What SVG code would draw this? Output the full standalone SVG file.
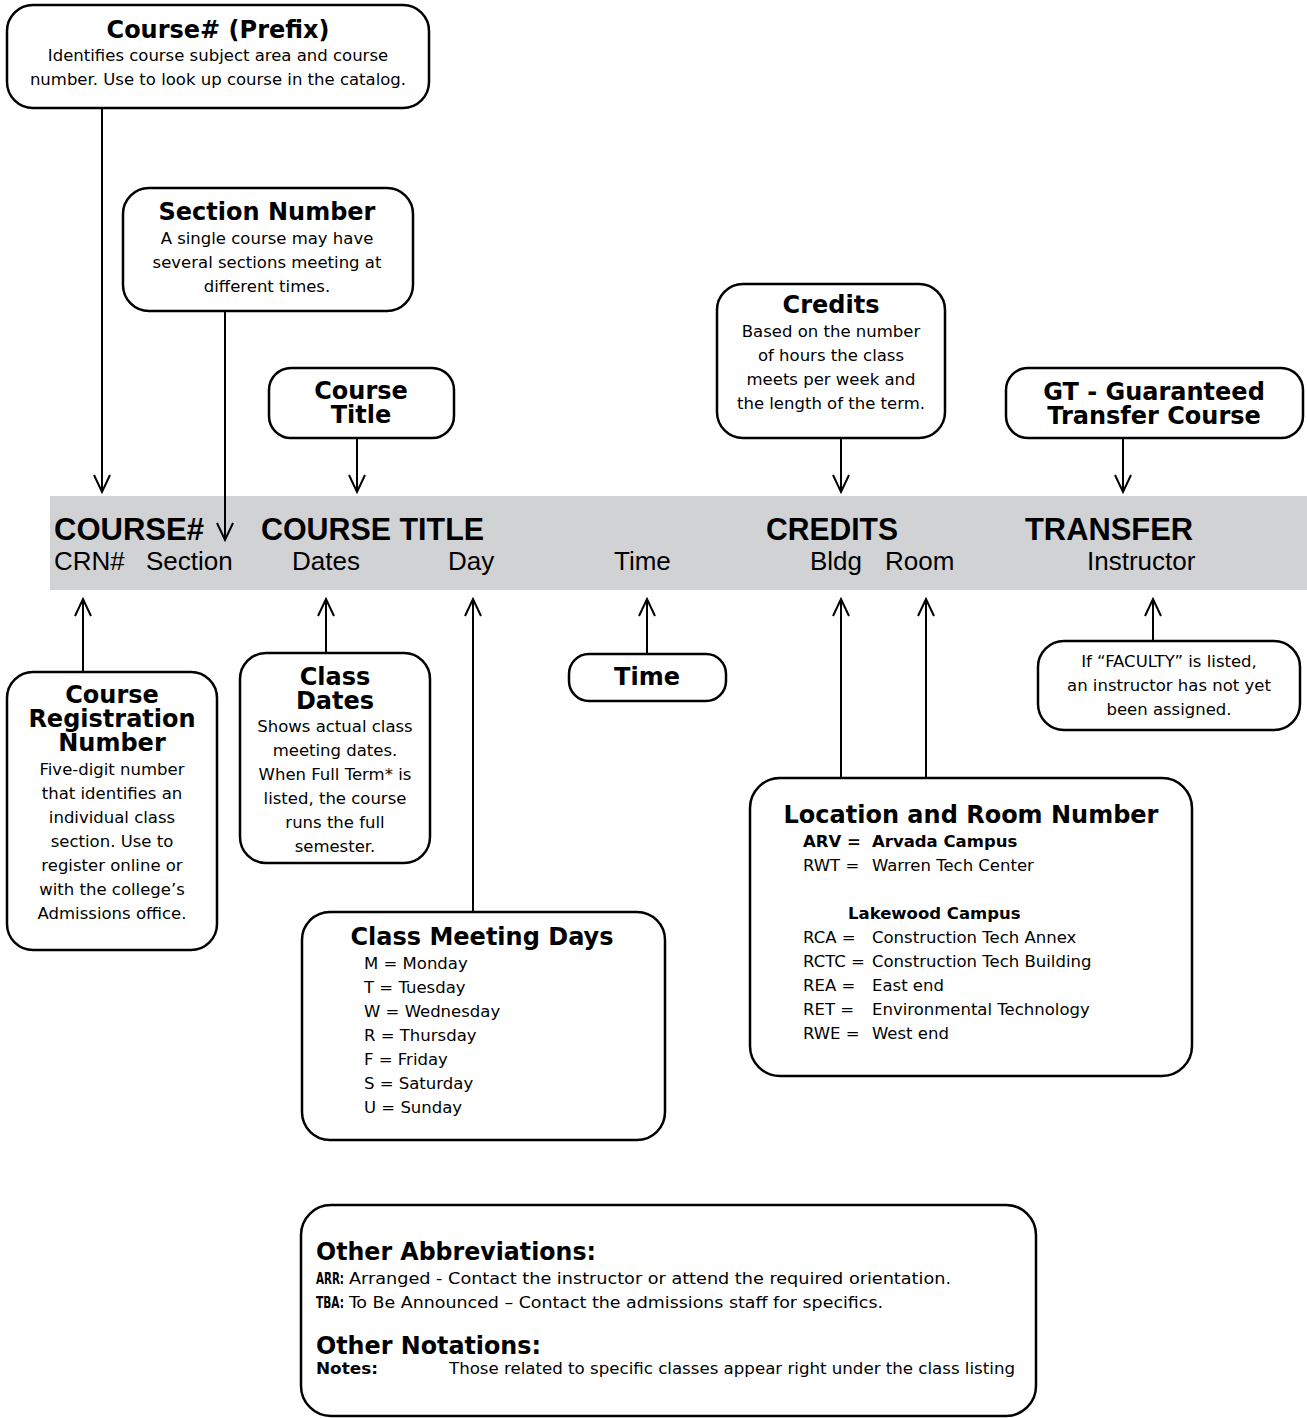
<svg xmlns="http://www.w3.org/2000/svg" width="1307" height="1418" viewBox="0 0 1307 1418">
<style>
.box{fill:#fff;stroke:#000;stroke-width:2.5}
.ttl{font-family:"DejaVu Sans",Verdana,sans-serif;font-weight:bold;font-size:24px;text-anchor:middle;fill:#000}
.body{font-family:"DejaVu Sans",Verdana,sans-serif;font-size:16.5px;text-anchor:middle;fill:#000}
.lst{font-family:"DejaVu Sans",Verdana,sans-serif;font-size:16.5px;fill:#000}
.lstb{font-family:"DejaVu Sans",Verdana,sans-serif;font-size:16.5px;font-weight:bold;fill:#000}
.cnd{font-family:"DejaVu Sans Condensed","DejaVu Sans",sans-serif;font-stretch:condensed;font-size:16px;fill:#000}
.cndb{font-family:"DejaVu Sans Condensed","DejaVu Sans",sans-serif;font-stretch:condensed;font-weight:bold;fill:#000}
.bh{font-family:"Liberation Sans",Arial,sans-serif;font-weight:bold;font-size:31px;fill:#000}
.br{font-family:"Liberation Sans",Arial,sans-serif;font-size:26px;fill:#000}
.conn line{stroke:#000;stroke-width:2;fill:none;marker-end:url(#arr)}
</style>
<defs>
<marker id="arr" markerUnits="userSpaceOnUse" viewBox="-18 -10 20 20" markerWidth="20" markerHeight="20" refX="0" refY="0" orient="auto" overflow="visible">
<path d="M-17,-8 L0,0 L-17,8" fill="none" stroke="#000" stroke-width="2"/>
</marker>
</defs>
<rect width="1307" height="1418" fill="#fff"/>

<g id="bar">
<rect x="50" y="496" width="1257" height="94" fill="#d1d2d4"/>
<text class="bh" x="54" y="540" textLength="150" lengthAdjust="spacingAndGlyphs">COURSE#</text>
<text class="bh" x="261" y="540" textLength="223" lengthAdjust="spacingAndGlyphs">COURSE TITLE</text>
<text class="bh" x="766" y="540" textLength="132" lengthAdjust="spacingAndGlyphs">CREDITS</text>
<text class="bh" x="1025" y="540" textLength="168" lengthAdjust="spacingAndGlyphs">TRANSFER</text>
<text class="br" x="54" y="570">CRN#</text>
<text class="br" x="146" y="570">Section</text>
<text class="br" x="292" y="570">Dates</text>
<text class="br" x="448" y="570">Day</text>
<text class="br" x="614" y="570">Time</text>
<text class="br" x="810" y="570">Bldg</text>
<text class="br" x="885" y="570">Room</text>
<text class="br" x="1087" y="570">Instructor</text>
</g>

<g id="connectors" class="conn">
<line x1="102" y1="108" x2="102" y2="492"/>
<line x1="225" y1="311" x2="225" y2="540"/>
<line x1="357" y1="438" x2="357" y2="492"/>
<line x1="841" y1="438" x2="841" y2="492"/>
<line x1="1123" y1="438" x2="1123" y2="492"/>
<line x1="83" y1="672" x2="83" y2="599"/>
<line x1="326" y1="653" x2="326" y2="599"/>
<line x1="473" y1="912" x2="473" y2="599"/>
<line x1="647" y1="654" x2="647" y2="599"/>
<line x1="841" y1="778" x2="841" y2="599"/>
<line x1="926" y1="778" x2="926" y2="599"/>
<line x1="1153" y1="641" x2="1153" y2="599"/>
</g>

<g id="course-prefix">
<rect class="box" x="7" y="5" width="422" height="103" rx="26"/>
<text class="ttl" x="218" y="38">Course# (Prefix)</text>
<text class="body" x="218" y="61">Identifies course subject area and course</text>
<text class="body" x="218" y="85">number. Use to look up course in the catalog.</text>
</g>

<g id="section-number">
<rect class="box" x="123" y="188" width="290" height="123" rx="26"/>
<text class="ttl" x="267" y="220">Section Number</text>
<text class="body" x="267" y="244">A single course may have</text>
<text class="body" x="267" y="268">several sections meeting at</text>
<text class="body" x="267" y="292">different times.</text>
</g>

<g id="course-title">
<rect class="box" x="269" y="368" width="185" height="70" rx="22"/>
<text class="ttl" x="361" y="399">Course</text>
<text class="ttl" x="361" y="423">Title</text>
</g>

<g id="credits">
<rect class="box" x="717" y="284" width="228" height="154" rx="26"/>
<text class="ttl" x="831" y="313">Credits</text>
<text class="body" x="831" y="337">Based on the number</text>
<text class="body" x="831" y="361">of hours the class</text>
<text class="body" x="831" y="385">meets per week and</text>
<text class="body" x="831" y="409">the length of the term.</text>
</g>

<g id="gt-transfer">
<rect class="box" x="1006" y="368" width="297" height="70" rx="22"/>
<text class="ttl" x="1154" y="400">GT - Guaranteed</text>
<text class="ttl" x="1154" y="424">Transfer Course</text>
</g>

<g id="crn">
<rect class="box" x="7" y="672" width="210" height="278" rx="26"/>
<text class="ttl" x="112" y="703">Course</text>
<text class="ttl" x="112" y="727">Registration</text>
<text class="ttl" x="112" y="751">Number</text>
<text class="body" x="112" y="775">Five-digit number</text>
<text class="body" x="112" y="799">that identifies an</text>
<text class="body" x="112" y="823">individual class</text>
<text class="body" x="112" y="847">section. Use to</text>
<text class="body" x="112" y="871">register online or</text>
<text class="body" x="112" y="895">with the college’s</text>
<text class="body" x="112" y="919">Admissions office.</text>
</g>

<g id="class-dates">
<rect class="box" x="240" y="653" width="190" height="210" rx="26"/>
<text class="ttl" x="335" y="685">Class</text>
<text class="ttl" x="335" y="709">Dates</text>
<text class="body" x="335" y="732">Shows actual class</text>
<text class="body" x="335" y="756">meeting dates.</text>
<text class="body" x="335" y="780">When Full Term* is</text>
<text class="body" x="335" y="804">listed, the course</text>
<text class="body" x="335" y="828">runs the full</text>
<text class="body" x="335" y="852">semester.</text>
</g>

<g id="time">
<rect class="box" x="569" y="654" width="157" height="47" rx="20"/>
<text class="ttl" x="647" y="685">Time</text>
</g>

<g id="instructor">
<rect class="box" x="1038" y="641" width="262" height="89" rx="26"/>
<text class="body" x="1169" y="667">If “FACULTY” is listed,</text>
<text class="body" x="1169" y="691">an instructor has not yet</text>
<text class="body" x="1169" y="715">been assigned.</text>
</g>

<g id="class-meeting-days">
<rect class="box" x="302" y="912" width="363" height="228" rx="28"/>
<text class="ttl" x="482" y="945">Class Meeting Days</text>
<text class="lst" x="364" y="969">M = Monday</text>
<text class="lst" x="364" y="993">T = Tuesday</text>
<text class="lst" x="364" y="1017">W = Wednesday</text>
<text class="lst" x="364" y="1041">R = Thursday</text>
<text class="lst" x="364" y="1065">F = Friday</text>
<text class="lst" x="364" y="1089">S = Saturday</text>
<text class="lst" x="364" y="1113">U = Sunday</text>
</g>

<g id="location">
<rect class="box" x="750" y="778" width="442" height="298" rx="30"/>
<text class="ttl" x="971" y="823">Location and Room Number</text>
<text class="lstb" x="803" y="847">ARV =</text>
<text class="lstb" x="872" y="847">Arvada Campus</text>
<text class="lst" x="803" y="871">RWT =</text>
<text class="lst" x="872" y="871">Warren Tech Center</text>
<text class="lstb" x="848" y="919">Lakewood Campus</text>
<text class="lst" x="803" y="943">RCA =</text>
<text class="lst" x="872" y="943">Construction Tech Annex</text>
<text class="lst" x="803" y="967">RCTC =</text>
<text class="lst" x="872" y="967">Construction Tech Building</text>
<text class="lst" x="803" y="991">REA =</text>
<text class="lst" x="872" y="991">East end</text>
<text class="lst" x="803" y="1015">RET =</text>
<text class="lst" x="872" y="1015">Environmental Technology</text>
<text class="lst" x="803" y="1039">RWE =</text>
<text class="lst" x="872" y="1039">West end</text>
</g>

<g id="other">
<rect class="box" x="301" y="1205" width="735" height="211" rx="30"/>
<text class="cndb" x="316" y="1260" font-size="24" textLength="280" lengthAdjust="spacingAndGlyphs">Other Abbreviations:</text>
<text class="cndb" x="316" y="1284" font-size="16" textLength="28" lengthAdjust="spacingAndGlyphs">ARR:</text>
<text class="cnd" x="349" y="1284" textLength="602" lengthAdjust="spacingAndGlyphs">Arranged - Contact the instructor or attend the required orientation.</text>
<text class="cndb" x="316" y="1308" font-size="16" textLength="28" lengthAdjust="spacingAndGlyphs">TBA:</text>
<text class="cnd" x="349" y="1308" textLength="534" lengthAdjust="spacingAndGlyphs">To Be Announced – Contact the admissions staff for specifics.</text>
<text class="cndb" x="316" y="1354" font-size="24" textLength="225" lengthAdjust="spacingAndGlyphs">Other Notations:</text>
<text class="cndb" x="316" y="1374" font-size="16" textLength="62" lengthAdjust="spacingAndGlyphs">Notes:</text>
<text class="cnd" x="449" y="1374" textLength="566" lengthAdjust="spacingAndGlyphs">Those related to specific classes appear right under the class listing</text>
</g>
</svg>
